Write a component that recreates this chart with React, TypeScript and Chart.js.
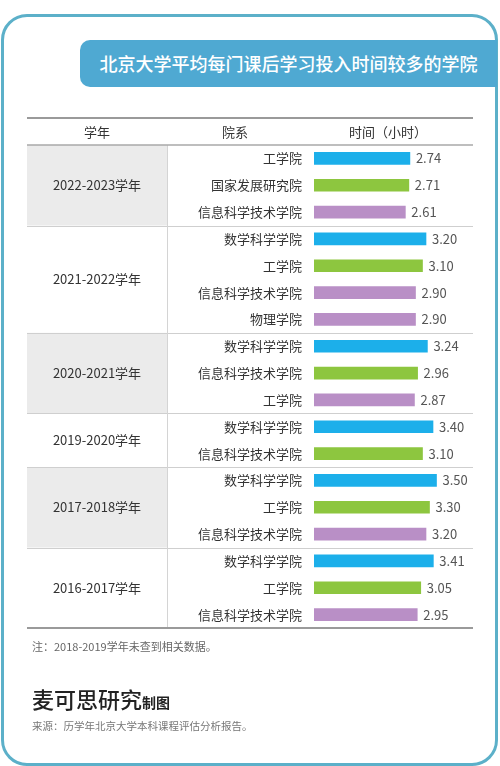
import React, { useEffect, useRef } from "react";
import { Chart, registerables } from "chart.js";

Chart.register(...registerables);

const years = ["2022-2023学年", "2021-2022学年", "2020-2021学年", "2019-2020学年", "2017-2018学年", "2016-2017学年"];
const groupSizes = [3, 4, 3, 2, 3, 3];
const colleges = [
  "工学院", "国家发展研究院", "信息科学技术学院",
  "数学科学学院", "工学院", "信息科学技术学院", "物理学院",
  "数学科学学院", "信息科学技术学院", "工学院",
  "数学科学学院", "信息科学技术学院",
  "数学科学学院", "工学院", "信息科学技术学院",
  "数学科学学院", "工学院", "信息科学技术学院",
];
const hours = [
  2.74, 2.71, 2.61,
  3.20, 3.10, 2.90, 2.90,
  3.24, 2.96, 2.87,
  3.40, 3.10,
  3.50, 3.30, 3.20,
  3.41, 3.05, 2.95,
];
const headers = ["学年", "院系", "时间（小时）"];
const title = "北京大学平均每门课后学习投入时间较多的学院";
const note = "注：2018-2019学年未查到相关数据。";
const brand = "麦可思研究";
const brandSuffix = "制图";
const source = "来源：历学年北京大学本科课程评估分析报告。";

const FONT = '"Noto Sans CJK SC", "Noto Sans", sans-serif';
const W = 500;
const H = 766;
const TABLE_L = 27;
const TABLE_R = 473;
const DIVIDER_X = 167;
const AREA_L = 314;
const AREA_TOP = 145;
const AREA_BOTTOM = 628;
const HEADER_TOP = 118;
const XMAX = 4.5;
const PX_PER_UNIT = 35;
const RANK_COLORS = ["#1cafea", "#8dc63f", "#b98fc6"];

function barColors(): string[] {
  const out: string[] = [];
  groupSizes.forEach((n) => {
    for (let i = 0; i < n; i++) out.push(RANK_COLORS[Math.min(i, 2)]);
  });
  return out;
}

const tablePlugin = {
  id: "tablePlugin",
  beforeDraw(chart: any) {
    const ctx = chart.ctx;
    const y = chart.scales.y;
    const pitch = y.getPixelForValue(1) - y.getPixelForValue(0);
    const top = chart.chartArea.top;
    const bottom = chart.chartArea.bottom;
    ctx.save();
    let start = 0;
    groupSizes.forEach((n, g) => {
      const gTop = y.getPixelForValue(start) - pitch / 2;
      const gBot = y.getPixelForValue(start + n - 1) + pitch / 2;
      if (g % 2 === 0) {
        ctx.fillStyle = "#ebebeb";
        ctx.fillRect(TABLE_L, gTop, DIVIDER_X - TABLE_L, gBot - gTop);
      }
      ctx.fillStyle = "#333333";
      ctx.font = `13px ${FONT}`;
      ctx.textAlign = "center";
      ctx.textBaseline = "middle";
      ctx.fillText(years[g], (TABLE_L + DIVIDER_X) / 2, (gTop + gBot) / 2);
      if (g > 0) {
        ctx.strokeStyle = "#cfcfcf";
        ctx.lineWidth = 1;
        ctx.beginPath();
        ctx.moveTo(TABLE_L, Math.round(gTop) + 0.5);
        ctx.lineTo(TABLE_R, Math.round(gTop) + 0.5);
        ctx.stroke();
      }
      start += n;
    });
    // vertical divider
    ctx.strokeStyle = "#d4d4d4";
    ctx.lineWidth = 1;
    ctx.beginPath();
    ctx.moveTo(DIVIDER_X + 0.5, top);
    ctx.lineTo(DIVIDER_X + 0.5, bottom);
    ctx.stroke();
    // header lines
    ctx.strokeStyle = "#9a9a9a";
    ctx.lineWidth = 2;
    ctx.beginPath();
    ctx.moveTo(TABLE_L, HEADER_TOP);
    ctx.lineTo(TABLE_R, HEADER_TOP);
    ctx.stroke();
    ctx.strokeStyle = "#a8a8a8";
    ctx.lineWidth = 1.5;
    ctx.beginPath();
    ctx.moveTo(TABLE_L, top);
    ctx.lineTo(TABLE_R, top);
    ctx.stroke();
    ctx.strokeStyle = "#9a9a9a";
    ctx.lineWidth = 2;
    ctx.beginPath();
    ctx.moveTo(TABLE_L, bottom);
    ctx.lineTo(TABLE_R, bottom);
    ctx.stroke();
    ctx.restore();
  },
  afterDatasetsDraw(chart: any) {
    const ctx = chart.ctx;
    const meta = chart.getDatasetMeta(0);
    ctx.save();
    ctx.fillStyle = "#555555";
    ctx.font = `13px ${FONT}`;
    ctx.textAlign = "left";
    ctx.textBaseline = "middle";
    meta.data.forEach((bar: any, i: number) => {
      ctx.fillText(hours[i].toFixed(2), bar.x + 6, bar.y);
    });
    ctx.restore();
  },
};

export default function App() {
  const ref = useRef<HTMLCanvasElement>(null);
  useEffect(() => {
    if (!ref.current) return;
    const chart = new Chart(ref.current, {
      type: "bar",
      data: {
        labels: colleges,
        datasets: [
          {
            data: hours,
            backgroundColor: barColors(),
            barThickness: 12,
            borderWidth: 0,
          },
        ],
      },
      options: {
        indexAxis: "y",
        animation: false,
        responsive: false,
        maintainAspectRatio: false,
        layout: {
          padding: {
            top: AREA_TOP,
            bottom: H - AREA_BOTTOM,
            left: 0,
            right: W - (AREA_L + PX_PER_UNIT * XMAX),
          },
        },
        scales: {
          x: { display: false, min: 0, max: XMAX },
          y: {
            position: "left",
            grid: { display: false, drawTicks: false },
            border: { display: false },
            ticks: {
              autoSkip: false,
              padding: 12,
              color: "#333333",
              font: { family: FONT, size: 13 },
            },
            afterFit: (s: any) => {
              s.width = AREA_L;
            },
          },
        },
        plugins: {
          legend: { display: false },
          tooltip: { enabled: false },
        },
      } as any,
      plugins: [tablePlugin],
    });
    return () => chart.destroy();
  }, []);

  const abs = (o: React.CSSProperties): React.CSSProperties => ({ position: "absolute", ...o });

  return (
    <div style={abs({ left: 0, top: 0, width: W, height: H, background: "#ffffff", fontFamily: FONT, overflow: "hidden" })}>
      <div
        style={abs({
          left: 1,
          top: 14,
          width: 497,
          height: 752,
          border: "3px solid #5cb0c9",
          borderRadius: 26,
          boxSizing: "border-box",
        })}
      />
      <div
        style={abs({
          left: 80,
          top: 40,
          width: 417,
          height: 47,
          background: "#4fa9d2",
          borderRadius: "10px 0 0 10px",
        })}
      />
      <div
        style={abs({
          left: 80,
          top: 40,
          width: 417,
          height: 47,
          lineHeight: "47px",
          color: "#ffffff",
          fontSize: 18,
          fontWeight: 500,
          textAlign: "center",
          whiteSpace: "nowrap",
        })}
      >
        {title}
      </div>
      <canvas ref={ref} width={W} height={H} style={abs({ left: 0, top: 0, width: W, height: H })} />
      {headers.map((h, i) => {
        const centers = [97, 235, 388];
        return (
          <div
            key={h}
            style={abs({
              left: centers[i] - 60,
              width: 120,
              top: HEADER_TOP,
              height: AREA_TOP - HEADER_TOP,
              lineHeight: `${AREA_TOP - HEADER_TOP}px`,
              textAlign: "center",
              fontSize: 13,
              color: "#333333",
              whiteSpace: "nowrap",
            })}
          >
            {h}
          </div>
        );
      })}
      <div style={abs({ left: 32, top: 637, fontSize: 11, color: "#666666", lineHeight: "18px", whiteSpace: "nowrap" })}>
        {note}
      </div>
      <div style={abs({ left: 32, top: 683, lineHeight: "30px", whiteSpace: "nowrap", color: "#222222" })}>
        <span style={{ fontSize: 22, fontWeight: 500 }}>{brand}</span>
        <span style={{ fontSize: 14, fontWeight: 700 }}>{brandSuffix}</span>
      </div>
      <div style={abs({ left: 32, top: 717, fontSize: 10.5, color: "#777777", lineHeight: "18px", whiteSpace: "nowrap" })}>
        {source}
      </div>
    </div>
  );
}
